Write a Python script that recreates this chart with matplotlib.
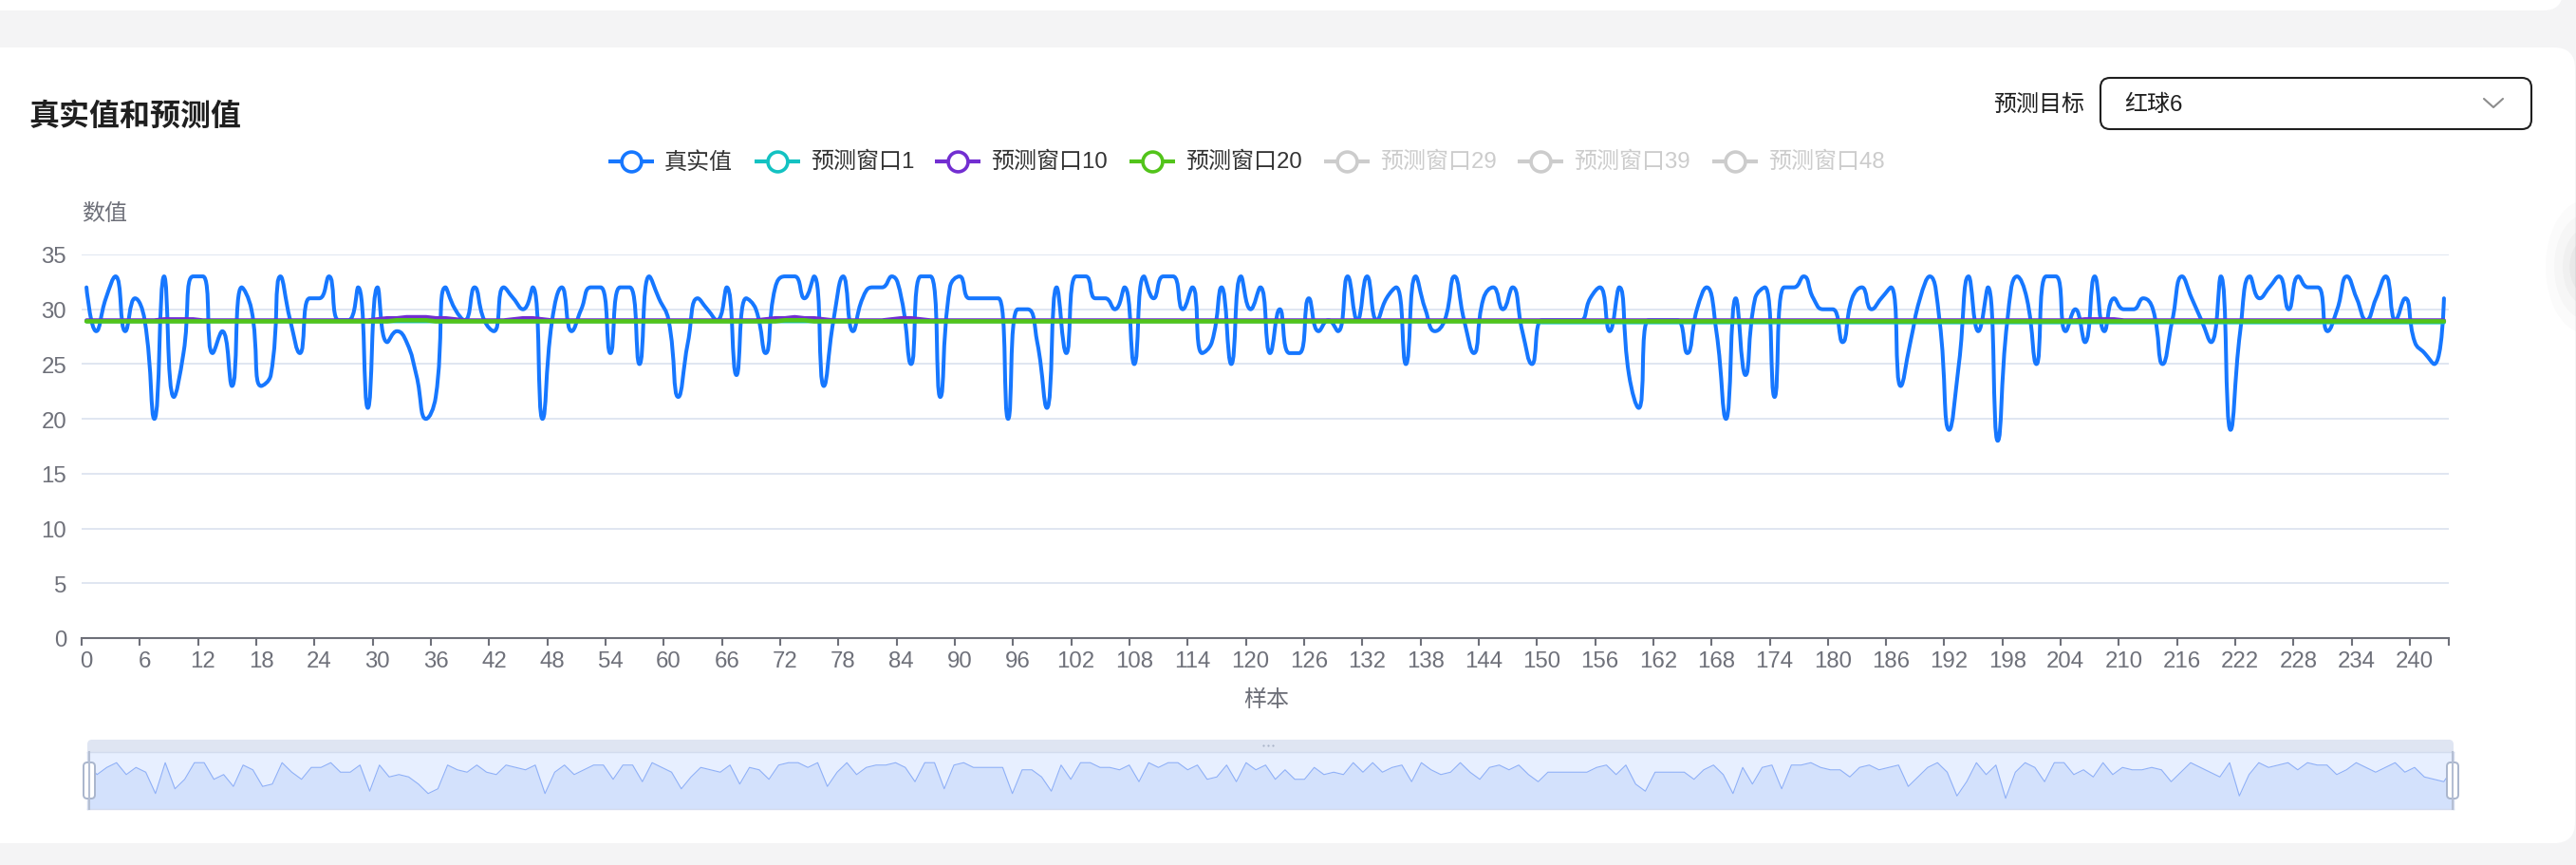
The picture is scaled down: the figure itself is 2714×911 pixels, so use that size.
import numpy as np
import matplotlib
matplotlib.use("Agg")
import matplotlib.pyplot as plt
from matplotlib.path import Path
from matplotlib.patches import PathPatch, FancyBboxPatch, Ellipse

plt.rcParams['font.family'] = ['Liberation Sans', 'Noto Sans CJK SC', 'DejaVu Sans']

# ---- data ----
title = "真实值和预测值"
series_names = ["真实值", "预测窗口1", "预测窗口10", "预测窗口20", "预测窗口29", "预测窗口39", "预测窗口48"]
series_active = [True, True, True, True, False, False, False]
target_label = "预测目标"
target_value = "红球6"

real = [
    32, 28, 31, 33, 28, 31, 29, 20, 33, 22,
    26, 33, 33, 26, 28, 23, 32, 30, 23, 24,
    33, 29, 26, 31, 31, 33, 29, 29, 32, 21,
    32, 27, 28, 27, 24, 20, 22, 32, 30, 29,
    32, 29, 28, 32, 31, 30, 32, 20, 29, 32,
    28, 30, 32, 32, 26, 32, 32, 25, 33, 31,
    29, 22, 27, 31, 30, 29, 32, 24, 31, 30,
    26, 32, 33, 33, 31, 33, 23, 29, 33, 28,
    31, 32, 32, 33, 31, 25, 33, 33, 22, 32,
    33, 31, 31, 31, 31, 20, 30, 30, 27, 21,
    32, 26, 33, 33, 31, 31, 30, 32, 25, 33,
    31, 33, 33, 30, 32, 26, 27, 32, 25, 33,
    30, 32, 26, 30, 26, 26, 31, 28, 29, 28,
    33, 29, 33, 29, 31, 32, 25, 33, 30, 28,
    29, 33, 29, 26, 31, 32, 30, 32, 28, 25,
    29, 29, 29, 29, 29, 31, 32, 28, 32, 24,
    21, 29, 29, 29, 29, 26, 30, 32, 28, 20,
    31, 24, 31, 32, 22, 32, 32, 33, 31, 30,
    30, 27, 31, 32, 30, 31, 32, 23, 27, 31,
    33, 29, 19, 25, 33, 28, 32, 18, 29, 33,
    31, 25, 33, 33, 28, 30, 27, 33, 28, 31,
    30, 30, 31, 30, 25, 29, 33, 31, 29, 27,
    33, 19, 28, 33, 31, 32, 33, 30, 33, 32,
    32, 28, 30, 33, 31, 29, 31, 33, 29, 31,
    27, 26, 25, 31,
]

pred_w1 = [
    28.9, 28.9, 28.9, 28.9, 28.9, 28.9, 28.9, 28.9, 28.9, 28.9, 28.9, 28.9, 28.9, 28.9, 28.9, 28.9, 28.9, 28.9, 28.9, 28.9,
    28.9, 28.9, 28.9, 28.9, 28.9, 28.9, 28.9, 28.9, 28.9, 28.9, 28.9, 28.9, 28.9, 28.9, 28.9, 28.9, 28.9, 28.9, 28.9, 28.9,
    28.9, 28.9, 28.9, 28.9, 28.9, 28.9, 28.9, 28.9, 28.9, 28.9, 28.9, 28.9, 28.9, 28.9, 28.9, 28.9, 28.9, 28.9, 28.9, 28.9,
    28.9, 28.9, 28.9, 28.9, 28.9, 28.9, 28.9, 28.9, 28.9, 28.9, 28.9, 28.9, 28.9, 28.9, 28.9, 28.9, 28.9, 28.9, 28.9, 28.9,
    28.9, 28.9, 28.9, 28.9, 28.9, 28.9, 28.9, 28.9, 28.9, 28.9, 28.9, 28.9, 28.9, 28.9, 28.9, 28.9, 28.9, 28.9, 28.9, 28.9,
    28.9, 28.9, 28.9, 28.9, 28.9, 28.9, 28.9, 28.9, 28.9, 28.9, 28.9, 28.9, 28.9, 28.9, 28.9, 28.9, 28.9, 28.9, 28.9, 28.9,
    28.9, 28.9, 28.9, 28.9, 28.9, 28.9, 28.9, 28.9, 28.9, 28.9, 28.9, 28.9, 28.9, 28.9, 28.9, 28.9, 28.9, 28.9, 28.9, 28.9,
    28.9, 28.9, 28.9, 28.9, 28.9, 28.9, 28.9, 28.9, 28.9, 28.9, 28.8, 28.8, 28.8, 28.8, 28.8, 28.8, 28.8, 28.8, 28.8, 28.8,
    28.8, 28.8, 28.8, 28.8, 28.8, 28.8, 28.8, 28.8, 28.8, 28.8, 28.8, 28.8, 28.8, 28.8, 28.8, 28.8, 28.8, 28.8, 28.8, 28.8,
    28.8, 28.8, 28.8, 28.8, 28.8, 28.8, 28.8, 28.8, 28.8, 28.8, 28.8, 28.8, 28.8, 28.8, 28.8, 28.8, 28.8, 28.8, 28.8, 28.8,
    28.8, 28.8, 28.8, 28.8, 28.8, 28.8, 28.8, 28.8, 28.8, 28.8, 28.8, 28.8, 28.8, 28.8, 28.8, 28.8, 28.8, 28.8, 28.8, 28.8,
    28.8, 28.8, 28.8, 28.8, 28.8, 28.8, 28.8, 28.8, 28.8, 28.8, 28.8, 28.8, 28.8, 28.8, 28.8, 28.8, 28.8, 28.8, 28.8, 28.8,
    28.8, 28.8, 28.8, 28.8,
]

pred_w10 = [
    29.0, 29.0, 29.0, 29.0, 29.0, 29.0, 29.0, 29.0, 29.1, 29.1, 29.1, 29.1, 29.0, 29.0, 29.0, 29.0, 29.0, 29.0, 29.0, 29.0,
    29.0, 29.0, 29.0, 29.0, 29.0, 29.0, 29.0, 29.0, 29.0, 29.0, 29.1, 29.2, 29.2, 29.3, 29.3, 29.3, 29.2, 29.2, 29.1, 29.0,
    29.0, 29.0, 29.0, 29.0, 29.1, 29.2, 29.2, 29.1, 29.0, 29.0, 29.0, 29.0, 29.0, 29.0, 29.0, 29.0, 29.0, 29.0, 29.0, 29.0,
    29.0, 29.0, 29.0, 29.0, 29.0, 29.0, 29.0, 29.0, 29.0, 29.0, 29.1, 29.2, 29.2, 29.3, 29.2, 29.2, 29.1, 29.0, 29.0, 29.0,
    29.0, 29.0, 29.0, 29.1, 29.2, 29.2, 29.1, 29.0, 29.0, 29.0, 29.0, 29.0, 29.0, 29.0, 29.0, 29.0, 29.0, 29.0, 29.0, 29.0,
    29.0, 29.0, 29.0, 29.0, 29.0, 29.0, 29.0, 29.0, 29.0, 29.0, 29.0, 29.0, 29.0, 29.0, 29.0, 29.0, 29.0, 29.0, 29.0, 29.0,
    29.0, 29.0, 29.0, 29.0, 29.0, 29.0, 29.0, 29.0, 29.0, 29.0, 29.0, 29.0, 29.0, 29.0, 29.0, 29.0, 29.0, 29.0, 29.0, 29.0,
    29.0, 29.0, 29.0, 29.0, 29.0, 29.0, 29.0, 29.0, 29.0, 29.0, 29.0, 29.0, 29.0, 29.0, 29.0, 29.0, 29.0, 29.0, 29.0, 29.0,
    29.0, 29.0, 29.0, 29.0, 29.0, 29.0, 29.0, 29.0, 29.0, 29.0, 29.0, 29.0, 29.0, 29.0, 29.0, 29.0, 29.0, 29.0, 29.0, 29.0,
    29.0, 29.0, 29.0, 29.0, 29.0, 29.0, 29.0, 29.0, 29.0, 29.0, 29.0, 29.0, 29.0, 29.0, 29.0, 29.0, 29.0, 29.0, 29.0, 29.0,
    29.0, 29.0, 29.0, 29.0, 29.0, 29.0, 29.1, 29.1, 29.1, 29.1, 29.0, 29.0, 29.0, 29.0, 29.0, 29.0, 29.0, 29.0, 29.0, 29.0,
    29.0, 29.0, 29.0, 29.0, 29.0, 29.0, 29.0, 29.0, 29.0, 29.0, 29.0, 29.0, 29.0, 29.0, 29.0, 29.0, 29.0, 29.0, 29.0, 29.0,
    29.0, 29.0, 29.0, 29.0,
]

pred_w20 = [
    28.9, 28.9, 28.9, 28.9, 28.9, 28.9, 28.9, 28.9, 28.9, 28.9, 28.9, 28.9, 28.9, 28.9, 28.9, 28.9, 28.9, 28.9, 28.9, 28.9,
    28.9, 28.9, 28.9, 28.9, 28.9, 28.9, 28.9, 28.9, 28.9, 28.9, 28.9, 28.9, 29.0, 29.0, 29.0, 29.0, 28.9, 28.9, 28.9, 28.9,
    28.9, 28.9, 28.9, 28.9, 28.9, 28.9, 28.9, 28.9, 28.9, 28.9, 28.9, 28.9, 28.9, 28.9, 28.9, 28.9, 28.9, 28.9, 28.9, 28.9,
    28.9, 28.9, 28.9, 28.9, 28.9, 28.9, 28.9, 28.9, 28.9, 28.9, 28.9, 28.9, 29.0, 29.0, 29.0, 28.9, 28.9, 28.9, 28.9, 28.9,
    28.9, 28.9, 28.9, 28.9, 28.9, 28.9, 28.9, 28.9, 28.9, 28.9, 28.9, 28.9, 28.9, 28.9, 28.9, 28.9, 28.9, 28.9, 28.9, 28.9,
    28.9, 28.9, 28.9, 28.9, 28.9, 28.9, 28.9, 28.9, 28.9, 28.9, 28.9, 28.9, 28.9, 28.9, 28.9, 28.9, 28.9, 28.9, 28.9, 28.9,
    28.9, 28.9, 28.9, 28.9, 28.9, 28.9, 28.9, 28.9, 28.9, 28.9, 28.9, 28.9, 28.9, 28.9, 28.9, 28.9, 28.9, 28.9, 28.9, 28.9,
    28.9, 28.9, 28.9, 28.9, 28.9, 28.9, 28.9, 28.9, 28.9, 28.9, 28.9, 28.9, 28.9, 28.9, 28.9, 28.9, 28.9, 28.9, 28.9, 28.9,
    28.9, 28.9, 28.9, 28.9, 28.9, 28.9, 28.9, 28.9, 28.9, 28.9, 28.9, 28.9, 28.9, 28.9, 28.9, 28.9, 28.9, 28.9, 28.9, 28.9,
    28.9, 28.9, 28.9, 28.9, 28.9, 28.9, 28.9, 28.9, 28.9, 28.9, 28.9, 28.9, 28.9, 28.9, 28.9, 28.9, 28.9, 28.9, 28.9, 28.9,
    28.9, 28.9, 28.9, 28.9, 28.9, 28.9, 28.9, 28.9, 28.9, 28.9, 28.9, 28.9, 28.9, 28.9, 28.9, 28.9, 28.9, 28.9, 28.9, 28.9,
    28.9, 28.9, 28.9, 28.9, 28.9, 28.9, 28.9, 28.9, 28.9, 28.9, 28.9, 28.9, 28.9, 28.9, 28.9, 28.9, 28.9, 28.9, 28.9, 28.9,
    28.9, 28.9, 28.9, 28.9,
]

x_ticks = list(range(0, 241, 6))
y_ticks = [0, 5, 10, 15, 20, 25, 30, 35]

# ---- style ----
W, H = 2714, 912
C_REAL = "#1677ff"
C_W1 = "#13c2c2"
C_W10 = "#722ed1"
C_W20 = "#52c41a"
C_OFF = "#cccccc"
C_AXIS = "#6e7079"
C_GRID = "#e0e6f1"
FS = 17.3


def frac(x0, y0, x1, y1):
    # pixel box (top-left origin) -> figure fraction rect
    return [x0 / W, 1 - y1 / H, (x1 - x0) / W, (y1 - y0) / H]


def smooth_path(xs, ys, sx, sy, smooth=0.5):
    # bezier smoothing the way echarts does it, computed in pixel space
    pts = [(x * sx, y * sy) for x, y in zip(xs, ys)]
    verts = [pts[0]]
    codes = [Path.MOVETO]
    cp0 = pts[0]
    n = len(pts)
    for i in range(1, n):
        x, y = pts[i]
        px, py = pts[i - 1]
        if i == n - 1:
            cp1 = (x, y)
            ncp0 = None
        else:
            nx, ny = pts[i + 1]
            vx, vy = nx - px, ny - py
            lp = np.hypot(x - px, y - py)
            ln = np.hypot(nx - x, ny - y)
            r = ln / (ln + lp)
            ncx = x + vx * smooth * r
            ncy = y + vy * smooth * r
            ncx = max(min(ncx, max(nx, x)), min(nx, x))
            ncy = max(min(ncy, max(ny, y)), min(ny, y))
            vx, vy = ncx - x, ncy - y
            c1x = x - vx * lp / ln
            c1y = y - vy * lp / ln
            c1x = max(min(c1x, max(px, x)), min(px, x))
            c1y = max(min(c1y, max(py, y)), min(py, y))
            vx, vy = x - c1x, y - c1y
            ncp0 = (x + vx * ln / lp, y + vy * ln / lp)
            cp1 = (c1x, c1y)
        verts += [cp0, cp1, (x, y)]
        codes += [Path.CURVE4] * 3
        cp0 = ncp0
    verts = [(vx / sx, vy / sy) for vx, vy in verts]
    return Path(verts, codes)


fig = plt.figure(figsize=(W / 100, H / 100), dpi=100)
fig.patch.set_facecolor("#f4f4f5")

# background / page layer in pixel coordinates
bg = fig.add_axes([0, 0, 1, 1], zorder=0)
bg.set_xlim(0, W)
bg.set_ylim(H, 0)
bg.axis("off")
bg.add_patch(FancyBboxPatch((-40, -40), W + 40 - 14, 52, boxstyle="round,pad=0,rounding_size=20",
                            fc="white", ec="none"))
bg.add_patch(FancyBboxPatch((-40, 51), W + 40 - 1, 889 - 51, boxstyle="round,pad=0,rounding_size=22",
                            fc="white", ec="none"))
# faint shadow of a side toggle at the right edge
for r, a in ((70, 0.015), (55, 0.02), (40, 0.025), (28, 0.03)):
    bg.add_patch(Ellipse((W + 10, 282), r * 1.2, r * 2, fc="#000000", alpha=a, ec="none"))

bg.text(30, 123, title, fontsize=23, fontweight="bold", color="#1f1f1f", ha="left", va="center")

# select box
bg.text(2196, 111, target_label, fontsize=FS, color="#1f1f1f", ha="right", va="center")
bg.add_patch(FancyBboxPatch((2213, 83), 454, 54, boxstyle="round,pad=0,rounding_size=10",
                            fc="white", ec="#1f1f1f", lw=1.5))
bg.text(2238, 111, target_value, fontsize=FS, color="#1f1f1f", ha="left", va="center")
bg.plot([2617, 2627, 2637], [105, 114, 105], color="#8c8c8c", lw=1.5, solid_capstyle="round")

# legend
leg_colors = [C_REAL, C_W1, C_W10, C_W20, C_W20, C_W20, C_W20]
leg_icon_x = [641, 795, 985, 1190, 1395, 1599, 1804]
for name, on, col, ix in zip(series_names, series_active, leg_colors, leg_icon_x):
    c = col if on else C_OFF
    bg.plot([ix, ix + 48], [171, 171], color=c, lw=3, solid_capstyle="butt")
    bg.plot([ix + 24], [171], marker="o", ms=15, mfc="white", mec=c, mew=2.6)
    bg.text(ix + 59, 171, name, fontsize=FS, color="#333333" if on else C_OFF, ha="left", va="center")

bg.text(110, 226, "数值", fontsize=FS, color=C_AXIS, ha="center", va="center")
bg.text(1334, 738, "样本", fontsize=FS, color=C_AXIS, ha="center", va="center")

# slider move-handle strip
bg.add_patch(FancyBboxPatch((92, 780), 2585 - 92, 16, boxstyle="round,pad=0,rounding_size=5",
                            fc="#dfe5f2", ec="none"))
for dx in (-5, 0, 5):
    bg.plot([1336 + dx], [786.5], marker="o", ms=1.6, color="#a9b4c9", mec="none")

# ---- main chart ----
x = np.arange(len(real))
ax = fig.add_axes(frac(86, 269, 2580, 673), zorder=2)
ax.patch.set_alpha(0)
ax.set_xlim(-0.5, len(real) - 0.5)
ax.set_ylim(0, 35)

sx = (2580 - 86) / len(real)
sy = (673 - 269) / 35
ax.add_patch(PathPatch(smooth_path(x, real, sx, sy), fill=False, ec=C_REAL, lw=2.9,
                       capstyle="round", joinstyle="round", zorder=3))
ax.plot(x, pred_w1, color=C_W1, lw=2.9, zorder=4, solid_capstyle="round")
ax.plot(x, pred_w10, color=C_W10, lw=2.9, zorder=5, solid_capstyle="round")
ax.plot(x, pred_w20, color=C_W20, lw=3.3, zorder=6, solid_capstyle="round")

ax.set_yticks(y_ticks)
ax.yaxis.grid(True, color=C_GRID, lw=1.4)
ax.set_axisbelow(True)
for s in ("left", "right", "top"):
    ax.spines[s].set_visible(False)
ax.spines["bottom"].set_color(C_AXIS)
ax.spines["bottom"].set_linewidth(1.5)
ax.set_xticks(x_ticks)
ax.set_xticks([k - 0.5 for k in x_ticks] + [len(real) - 0.5], minor=True)
ax.tick_params(axis="x", which="major", length=0, pad=9.5, labelsize=FS, labelcolor=C_AXIS)
ax.tick_params(axis="x", which="minor", length=5.8, width=1.5, color=C_AXIS)
ax.tick_params(axis="y", length=0, pad=11.5, labelsize=FS, labelcolor=C_AXIS)

# ---- data zoom slider ----
lo, hi = min(real), max(real)
off = (hi - lo) * 0.3
sl = fig.add_axes(frac(92, 793, 2585, 853), zorder=2)
sl.set_facecolor("#e7efff")
sl.set_xlim(0, len(real) - 1)
sl.set_ylim(lo - off, hi + off)
sl.fill_between(x, real, lo - off, color="#d3e1fc", lw=0)
sl.plot(x, real, color="#8fb0f7", lw=0.8)
sl.set_xticks([])
sl.set_yticks([])
for s in sl.spines.values():
    s.set_color("#d2dbee")
    s.set_linewidth(1.0)

# slider handles on top
ov = fig.add_axes([0, 0, 1, 1], zorder=5)
ov.set_xlim(0, W)
ov.set_ylim(H, 0)
ov.axis("off")
ov.patch.set_alpha(0)
for hx in (94, 2584):
    ov.plot([hx, hx], [793, 853], color="#b5bfd3", lw=1.5)
    ov.add_patch(FancyBboxPatch((hx - 6, 804), 12, 38, boxstyle="round,pad=0,rounding_size=4",
                                fc="white", ec="#a9b5cc", lw=1.4))

fig.savefig("out.png", dpi=100)
